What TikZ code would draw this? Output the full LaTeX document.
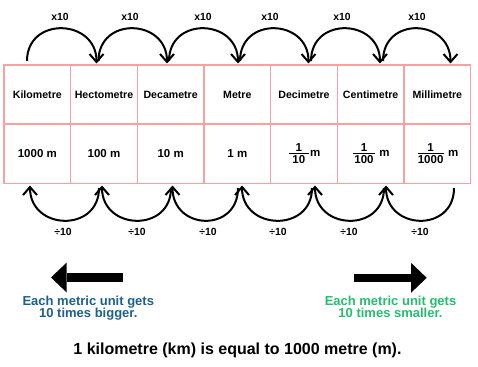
\documentclass[tikz,border=0pt]{standalone}
\usepackage{fontspec}
\setmainfont{Liberation Sans}
\usetikzlibrary{arrows.meta}
\definecolor{cellline}{RGB}{250,160,160}
\definecolor{bigblue}{RGB}{28,96,140}
\definecolor{smallgreen}{RGB}{36,190,110}
\newcommand\fracm[2]{${\hbox{1}\above1.2pt\hbox to #2{\hss#1\hss}}$}
\begin{document}
\begin{tikzpicture}[x=1pt,y=-1pt,
  cell/.style={draw=cellline, line width=1.3pt, minimum width=66.67pt, minimum height=59.3pt, inner sep=0pt, font=\fontsize{10.6}{12}\selectfont\bfseries},
  valcell/.style={cell, font=\fontsize{11.5}{13}\selectfont\bfseries},
  curvy/.style={line width=2pt, -{Straight Barb[length=8pt,width=14pt]}},
  lbl/.style={font=\fontsize{10.4}{12}\selectfont\bfseries, inner sep=0pt},
  block/.style={line width=8.4pt, -{Triangle[length=15.7pt,width=30pt,line width'=0pt]}},
  note/.style={font=\fontsize{13}{12.7}\selectfont\bfseries, align=center, inner sep=0pt, anchor=base}]
\useasboundingbox (0,0) rectangle (478,366);

% table, top row
\node[cell] (t1) at (37.33,94.6) {Kilometre};
\node[cell] (t2) at (104,94.6) {Hectometre};
\node[cell] (t3) at (170.67,94.6) {Decametre};
\node[cell] (t4) at (237.33,94.6) {Metre};
\node[cell] (t5) at (304,94.6) {Decimetre};
\node[cell] (t6) at (370.67,94.6) {Centimetre};
\node[cell] (t7) at (437.33,94.6) {Millimetre};
% table, bottom row
\node[valcell] (v1) at (37.33,153.6) {1000 m};
\node[valcell] (v2) at (104,153.6) {100 m};
\node[valcell] (v3) at (170.67,153.6) {10 m};
\node[valcell] (v4) at (237.33,153.6) {1 m};
\node[valcell] (v5) at (304,153.6) {\fracm{10}{20pt}m};
\node[valcell] (v6) at (370.67,153.6) {\fracm{100}{22pt} m};
\node[valcell] (v7) at (437.33,153.6) {\fracm{1000}{26pt} m};

% top arcs (x10)
\coordinate (ts1) at (27,61);  \coordinate (te1) at (96.5,63.5);
\coordinate (ts2) at (98.5,61); \coordinate (te2) at (167,63.5);
\coordinate (ts3) at (169,61); \coordinate (te3) at (238,63.5);
\coordinate (ts4) at (240,61); \coordinate (te4) at (308.5,63.5);
\coordinate (ts5) at (311,61); \coordinate (te5) at (380,63.5);
\coordinate (ts6) at (383,61); \coordinate (te6) at (450.5,63.5);
\foreach \i in {1,...,6}
  \draw[curvy] (ts\i) .. controls +(0,-45) and +(0,-45) .. (te\i);
\node[lbl] (x1) at (60,17.3) {x10};
\node[lbl] (x2) at (130,17.3) {x10};
\node[lbl] (x3) at (203,17.3) {x10};
\node[lbl] (x4) at (270,17.3) {x10};
\node[lbl] (x5) at (342,17.3) {x10};
\node[lbl] (x6) at (417,17.3) {x10};

% bottom arcs (divide by 10)
\coordinate (bs1) at (99,188);  \coordinate (be1) at (30,185.5);
\coordinate (bs2) at (171,188); \coordinate (be2) at (102,185.5);
\coordinate (bs3) at (238,188); \coordinate (be3) at (172.5,185.5);
\coordinate (bs4) at (312,188); \coordinate (be4) at (242,185.5);
\coordinate (bs5) at (384,188); \coordinate (be5) at (315,185.5);
\coordinate (bs6) at (454,188); \coordinate (be6) at (386,185.5);
\foreach \i in {1,...,6}
  \draw[curvy] (bs\i) .. controls +(0,45) and +(0,45) .. (be\i);
\node[lbl] (d1) at (63,232.3) {÷10};
\node[lbl] (d2) at (137,232.3) {÷10};
\node[lbl] (d3) at (208,232.3) {÷10};
\node[lbl] (d4) at (278,232.3) {÷10};
\node[lbl] (d5) at (349,232.3) {÷10};
\node[lbl] (d6) at (420,232.3) {÷10};

% big arrows
\coordinate (la1) at (123.3,277.5); \coordinate (la2) at (51,277.5);
\coordinate (ra1) at (354.3,277.8); \coordinate (ra2) at (426.7,277.8);
\draw[block] (la1) -- (la2);
\draw[block] (ra1) -- (ra2);

\node[note, text=bigblue] (nb) at (88.3,317.7) {Each metric unit gets\\10 times bigger.};
\node[note, text=smallgreen] (ns) at (390.5,317.7) {Each metric unit gets\\10 times smaller.};

\node[font=\fontsize{16}{18}\selectfont\bfseries, inner sep=0pt, anchor=base] (eq) at (237.5,354) {1 kilometre (km) is equal to 1000 metre (m).};
\end{tikzpicture}
\end{document}
